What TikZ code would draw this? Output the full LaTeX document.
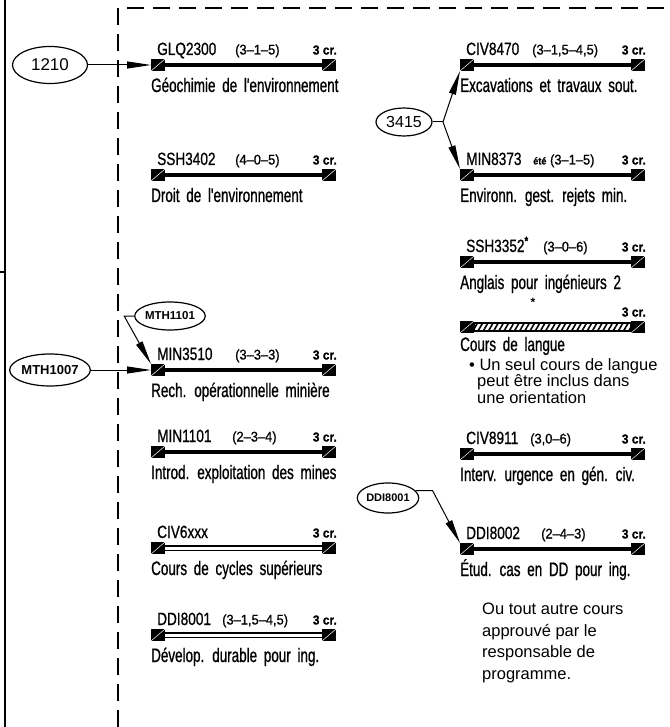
\documentclass[tikz,border=0pt]{standalone}
\usepackage{fontspec}
\setmainfont{Liberation Sans}
\newfontfamily\cadfont[FakeStretch=0.69, WordSpace=1.8, FakeBold=0.8]{Liberation Sans}
\newfontfamily\cadcode[FakeStretch=0.77, FakeBold=0.8]{Liberation Sans}
\newfontfamily\cadprm[FakeStretch=0.92, FakeBold=0.8]{Liberation Sans}
\usetikzlibrary{shapes.geometric, arrows.meta, patterns.meta, calc}

\tikzset{
  sq/.style={rectangle, fill=black, minimum width=14pt, minimum height=12pt, inner sep=0pt, outer sep=0pt,
    path picture={\draw[white, line width=0.5pt] (path picture bounding box.south west) -- (path picture bounding box.north east);}},
  codet/.style={font=\cadcode\fontsize{17.7}{20}\selectfont, inner sep=0pt, anchor=base west},
  prmt/.style={font=\cadprm\fontsize{14}{16}\selectfont, inner sep=0pt, anchor=base west},
  crt/.style={font=\cadprm\bfseries\fontsize{13}{15}\selectfont, inner sep=0pt, anchor=base east},
  desct/.style={font=\cadfont\fontsize{19.5}{22}\selectfont, inner sep=0pt, anchor=base west},
  ell/.style={ellipse, draw, line width=1.2pt, inner sep=0pt},
  arr/.style={line width=1pt, -{Triangle[length=24pt,width=7pt]}},
  notet/.style={font=\fontsize{16.5}{16.5}\selectfont, align=left, inner sep=0pt, anchor=north west},
  frame/.style={line width=2pt},
  dashframe/.style={line width=2pt, dash pattern=on 17pt off 9pt},
}

\newcommand\barfull[1]{\draw[line width=4.5pt] (#1L.east) -- (#1R.west);}
\newcommand\bardbl[1]{\draw[line width=1.6pt, double=white, double distance=3pt] (#1L.east) -- (#1R.west);}
\newcommand\barhatch[1]{\draw[line width=1.2pt, fill=white] ($(#1L.east)+(0,-4)$) rectangle ($(#1R.west)+(0,4)$);
  \fill[pattern={Lines[angle=60,distance=4.5pt,line width=1.6pt]}] ($(#1L.east)+(0,-4)$) rectangle ($(#1R.west)+(0,4)$);}

\newcommand\crsbar[4]{%
  \node[sq] (#1L) at (#2+7,#3) {};
  \node[sq] (#1R) at (#2+178,#3) {};
  #4{#1}%
  \node[crt] (#1cr) at (#2+186,#3-10.5) {3 cr.};
}
\newcommand\crstext[5]{%
  \node[codet] (#1code) at (#2+6,#3-10) {#4};
  \node[desct] (#1desc) at (#2,#3+27) {#5};
}

\begin{document}
\begin{tikzpicture}[x=1pt,y=-1pt]
\useasboundingbox (0,0) rectangle (669,727);

% frame lines
\draw[frame] (5,0) -- (5,727);
\draw[line width=1.5pt] (0,272) -- (5,272);
\draw[dashframe] (118,727) -- (118,8) -- (669,8);

% left column
\crsbar{glq}{151}{65}{\barfull}
\crstext{glq}{151}{65}{GLQ2300}{Géochimie de l'environnement}
\node[prmt] (glqprm) at (235,54.5) {(3–1–5)};

\crsbar{ssh3402}{151}{175}{\barfull}
\crstext{ssh3402}{151}{175}{SSH3402}{Droit de l'environnement}
\node[prmt] (ssh3402prm) at (235,164.5) {(4–0–5)};

\crsbar{min3510}{151}{370}{\barfull}
\crstext{min3510}{151}{370}{MIN3510}{Rech. opérationnelle minière}
\node[prmt] (min3510prm) at (235,359.5) {(3–3–3)};

\crsbar{min1101}{151}{452}{\barfull}
\crstext{min1101}{151}{452}{MIN1101}{Introd. exploitation des mines}
\node[prmt] (min1101prm) at (232,441.5) {(2–3–4)};

\crsbar{civsix}{151}{548}{\bardbl}
\crstext{civsix}{151}{548}{CIV6xxx}{Cours de cycles supérieurs}

\crsbar{ddiA}{151}{635}{\bardbl}
\crstext{ddiA}{151}{635}{DDI8001}{Dévelop. durable pour ing.}
\node[prmt] (ddiAprm) at (222,624.5) {(3–1,5–4,5)};

% right column
\crsbar{civ8470}{460}{65}{\barfull}
\crstext{civ8470}{460}{65}{CIV8470}{Excavations et travaux sout.}
\node[prmt] (civ8470prm) at (532,54.5) {(3–1,5–4,5)};

\crsbar{min8373}{460}{175}{\barfull}
\crstext{min8373}{460}{175}{MIN8373}{Environn. gest. rejets min.}
\node[prmt] (min8373prm) at (533,164.5) {{\bfseries\fontsize{10}{12}\selectfont été} (3–1–5)};

\crsbar{ssh3352}{460}{262}{\barfull}
\crstext{ssh3352}{460}{262}{SSH3352\raisebox{7pt}{\fontsize{12}{12}\selectfont\bfseries *}}{Anglais pour ingénieurs 2}
\node[prmt] (ssh3352prm) at (543,251.5) {(3–0–6)};

\crsbar{langue}{460}{327}{\barhatch}
\node[desct] (languedesc) at (460,351) {Cours de langue};
\node[font=\bfseries\fontsize{12}{12}\selectfont, inner sep=0pt] (languestar) at (533,302) {*};

\node[notet] (note1) at (469,358) {• Un seul cours de langue\\\hspace*{8pt}peut être inclus dans\\\hspace*{8pt}une orientation};

\crsbar{civ8911}{460}{454}{\barfull}
\crstext{civ8911}{460}{454}{CIV8911}{Interv. urgence en gén. civ.}
\node[prmt] (civ8911prm) at (530,443.5) {(3,0–6)};

\crsbar{ddiB}{460}{549}{\barfull}
\crstext{ddiB}{460}{549}{DDI8002}{Étud. cas en DD pour ing.}
\node[prmt] (ddiBprm) at (541,538.5) {(2–4–3)};

\node[notet, font=\fontsize{16.5}{21.5}\selectfont] (note2) at (482,603) {Ou tout autre cours\\approuvé par le\\responsable de\\programme.};

% prerequisite ellipses
\node[ell, minimum width=75pt, minimum height=37pt, font=\fontsize{17}{18}\selectfont] (e1210) at (50,65) {1210};
\node[ell, minimum width=75pt, minimum height=32pt, font=\bfseries\fontsize{13}{14}\selectfont] (emth1007) at (50,370) {MTH1007};
\node[ell, minimum width=54pt, minimum height=28pt, font=\bfseries\fontsize{11.5}{12}\selectfont] (emth1101) at (170,316) {MTH1101};
\node[ell, minimum width=56pt, minimum height=28pt, font=\fontsize{16}{17}\selectfont] (e3415) at (404,122) {3415};
\node[ell, minimum width=54pt, minimum height=30pt, font=\bfseries\fontsize{11}{12}\selectfont] (eddi) at (388,498) {DDI8001};

% connectors
\draw[arr] (e1210.east) -- (glqL.west);
\draw[arr] (emth1007.east) -- (min3510L.west);
\draw[arr] (emth1101.west) -- ++(-10,0) -- (min3510L.north west);
\coordinate (j3415) at (443,122);
\draw[line width=1pt] (e3415.east) -- (j3415);
\draw[arr] (j3415) -- (civ8470L.south west);
\draw[arr] (j3415) -- (min8373L.north west);
\draw[arr] (eddi.15) -- ++(17,0) -- (ddiBL.north west);
\end{tikzpicture}
\end{document}
